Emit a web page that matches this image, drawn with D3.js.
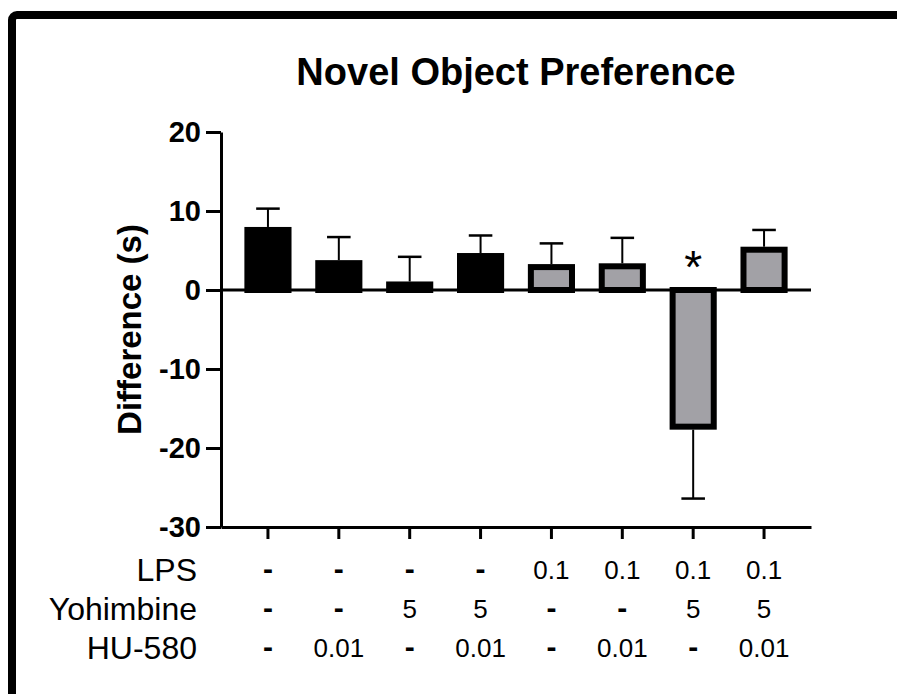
<!DOCTYPE html>
<html>
<head>
<meta charset="utf-8">
<script src="https://cdn.jsdelivr.net/npm/d3@7"></script>
<style>
  html, body { margin: 0; padding: 0; background: #fff; overflow: hidden; }
  svg { display: block; font-family: "Liberation Sans", Arial, sans-serif; }
</style>
</head>
<body>
<svg id="chart" width="897" height="694"></svg>
<script>
// Group order along the x axis
const groups = [0, 1, 2, 3, 4, 5, 6, 7];
// Mean difference (s) and SEM for each group
const means = [7.6, 3.4, 0.7, 4.3, 2.9, 3.0, -17.3, 5.1];
const sems  = [2.7, 3.3, 3.5, 2.6, 3.0, 3.6, 9.1, 2.5];
// Fill per group: saline-treated (black) vs LPS-treated (grey)
const fills = ["black", "black", "black", "black", "grey", "grey", "grey", "grey"];
// Significance markers
const marks = ["", "", "", "", "", "", "*", ""];
// Treatment table under the axis
const rowNames = ["LPS", "Yohimbine", "HU-580"];
const lpsDoses = ["-", "-", "-", "-", "0.1", "0.1", "0.1", "0.1"];
const yohDoses = ["-", "-", "5", "5", "-", "-", "5", "5"];
const huDoses  = ["-", "0.01", "-", "0.01", "-", "0.01", "-", "0.01"];
const yTicks = [-30, -20, -10, 0, 10, 20];

const colour = { black: "#000000", grey: "#a2a1a6" };
const svg = d3.select("#chart");

const plotL = 221, plotR = 811, plotT = 132, plotB = 527;
const x = d3.scaleBand().domain(groups).range([plotL, plotR])
  .paddingInner(0.335).paddingOuter(0.33);
const y = d3.scaleLinear().domain([-30, 20]).range([plotB, plotT]);

// Outer frame
svg.append("rect")
  .attr("x", 12).attr("y", 15).attr("width", 1000).attr("height", 800)
  .attr("rx", 5)
  .attr("fill", "none").attr("stroke", "#000").attr("stroke-width", 8);

// Title
svg.append("text")
  .attr("x", (plotL + plotR) / 2).attr("y", 85)
  .attr("text-anchor", "middle")
  .attr("font-size", 38).attr("font-weight", "bold")
  .text("Novel Object Preference");

// Y axis
const yAxis = svg.append("g")
  .attr("transform", `translate(${plotL},0)`)
  .call(d3.axisLeft(y).tickValues(yTicks).tickSize(15).tickSizeOuter(0).tickPadding(5)
    .tickFormat(d => String(d)));
yAxis.select(".domain").attr("stroke-width", 3);
yAxis.selectAll(".tick line").attr("stroke-width", 3);
yAxis.selectAll(".tick text")
  .attr("font-size", 29).attr("font-weight", "bold")
  .attr("font-family", "Liberation Sans, Arial, sans-serif").attr("fill", "#000");

// Y axis title
svg.append("text")
  .attr("transform", `translate(141,${(plotT + plotB) / 2}) rotate(-90)`)
  .attr("text-anchor", "middle")
  .attr("font-size", 33).attr("font-weight", "bold")
  .text("Difference (s)");

// Bottom axis with group ticks
const xAxis = svg.append("g")
  .attr("transform", `translate(0,${y(-30)})`)
  .call(d3.axisBottom(x).tickSize(12).tickSizeOuter(0).tickFormat(""));
xAxis.select(".domain").attr("stroke-width", 3);
xAxis.selectAll(".tick line").attr("stroke-width", 3);

// Bars
const sw = 6;
svg.append("g").selectAll("rect")
  .data(groups)
  .join("rect")
  .attr("x", i => x(i) + sw / 2)
  .attr("width", x.bandwidth() - sw)
  .attr("y", i => y(Math.max(means[i], 0)))
  .attr("height", i => Math.abs(y(means[i]) - y(0)))
  .attr("fill", i => colour[fills[i]])
  .attr("stroke", "#000").attr("stroke-width", sw);

// Error bars (one-sided, away from zero)
const capW = x.bandwidth() / 2;
const err = svg.append("g").attr("stroke", "#000");
groups.forEach(i => {
  const m = means[i];
  const end = m >= 0 ? m + sems[i] : m - sems[i];
  const cx = x(i) + x.bandwidth() / 2;
  const startY = y(m) + (m >= 0 ? -sw / 2 : sw / 2);
  err.append("line")
    .attr("x1", cx).attr("x2", cx)
    .attr("y1", startY).attr("y2", y(end))
    .attr("stroke-width", 2);
  err.append("line")
    .attr("x1", cx - capW / 2).attr("x2", cx + capW / 2)
    .attr("y1", y(end)).attr("y2", y(end))
    .attr("stroke-width", 2.5);
});

// Zero line
svg.append("line")
  .attr("x1", plotL).attr("x2", plotR)
  .attr("y1", y(0)).attr("y2", y(0))
  .attr("stroke", "#000").attr("stroke-width", 3);

// Significance markers
svg.append("g").selectAll("text")
  .data(groups.filter(i => marks[i]))
  .join("text")
  .attr("x", i => x(i) + x.bandwidth() / 2)
  .attr("y", y(0) - 7)
  .attr("text-anchor", "middle")
  .attr("font-size", 46)
  .text(i => marks[i]);

// Treatment table
const rows = [lpsDoses, yohDoses, huDoses];
const labelBase = [581, 620, 659];
rows.forEach((row, r) => {
  svg.append("text")
    .attr("x", 197).attr("y", labelBase[r])
    .attr("text-anchor", "end")
    .attr("font-size", 32)
    .text(rowNames[r]);
  svg.append("g").selectAll("text")
    .data(groups)
    .join("text")
    .attr("x", i => x(i) + x.bandwidth() / 2)
    .attr("y", labelBase[r] - 2)
    .attr("text-anchor", "middle")
    .attr("font-size", i => row[i] === "-" ? 30 : 26)
    .attr("font-weight", i => row[i] === "-" ? "bold" : "normal")
    .text(i => row[i]);
});
</script>
</body>
</html>
